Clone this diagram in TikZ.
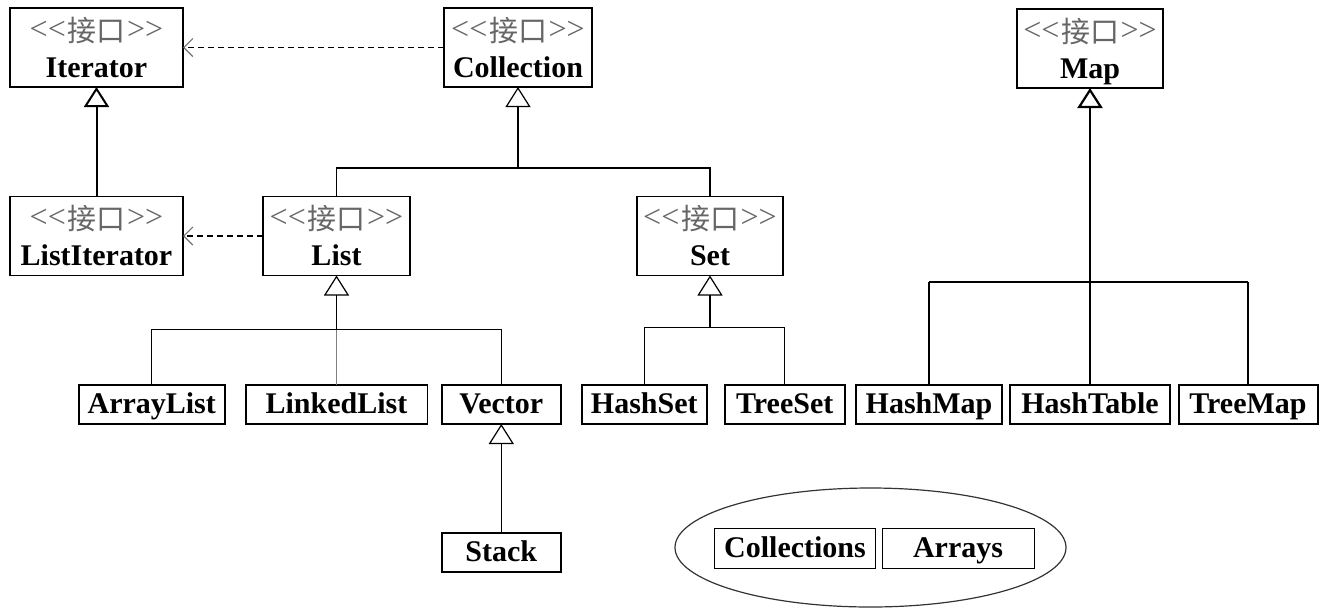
\documentclass[tikz,border=0pt]{standalone}
\usepackage{fontspec}
\setmainfont{Liberation Serif}
\newfontfamily\cjkfont{Noto Sans CJK SC}
\usetikzlibrary{arrows.meta,shapes.geometric,calc}
\newcommand\ltgt[1]{\raisebox{2pt}{\fontsize{32}{32}\selectfont #1}}
\newcommand\stereolabel{\ltgt{<{}<}\,{\cjkfont\fontsize{29}{29}\selectfont 接口}\,\ltgt{>{}>}}
\tikzset{
  every node/.style={inner sep=0pt, outer sep=0pt},
  iface/.style={draw, rectangle, line width=1.5pt, minimum height=79pt},
  cls/.style={draw, rectangle, line width=2pt, minimum height=39pt,
    font=\fontsize{30}{30}\selectfont\bfseries, text height=18pt, text depth=0pt},
  util/.style={cls, line width=1pt, minimum height=40pt},
  nametxt/.style={anchor=base, font=\fontsize{30}{30}\selectfont\bfseries},
  stereotxt/.style={anchor=base, text=black!60},
  inh/.style={-{Triangle[open,length=20pt,width=25pt]}},
  link/.style={line width=1.2pt},
  heavy/.style={line width=2.2pt},
  dep/.style={line width=1.2pt, dash pattern=on 6pt off 4pt,
    -{Straight Barb[length=9pt,width=18pt,color=black!55]}},
}
\newcommand\ifcbox[5]{%
  \node[iface, minimum width=#4pt] (#1) at (#2,#3) {};
  \node[stereotxt] at ($(#1.north)+(0,33)$) {\stereolabel};
  \node[nametxt] at ($(#1.north)+(0,69)$) {#5};
}
\begin{document}
\begin{tikzpicture}[x=1pt,y=-1pt]
\useasboundingbox (0,0) rectangle (1323,614);
% interfaces
\ifcbox{iter}{96.5}{47.5}{173}{Iterator}
\ifcbox{coll}{518}{47.5}{148}{Collection}
\ifcbox{map}{1090}{48.5}{146}{Map}
\ifcbox{listit}{96.5}{236}{173}{ListIterator}
\ifcbox{list}{336.5}{236}{147}{List}
\ifcbox{set}{710}{236}{146}{Set}
% classes
\node[cls, minimum width=146.5pt] (arraylist) at (151.75,404.5) {ArrayList};
\node[cls, line width=1.5pt, minimum width=181.5pt] (linkedlist) at (336.5,404.5) {LinkedList};
\node[cls, minimum width=119.4pt] (vector) at (501.3,404.5) {Vector};
\node[cls, minimum width=119.4pt] (stack) at (501.3,552.5) {Stack};
\node[cls, minimum width=124.5pt] (hashset) at (644.25,404.5) {HashSet};
\node[cls, minimum width=120.5pt] (treeset) at (784.75,404.5) {TreeSet};
\node[cls, minimum width=146pt] (hashmap) at (929,404.5) {HashMap};
\node[cls, minimum width=159.5pt] (hashtable) at (1090,404.5) {HashTable};
\node[cls, minimum width=139pt] (treemap) at (1248,404.5) {TreeMap};
% utilities
\node[draw, ellipse, line width=1.2pt, draw=black!80, minimum width=391pt, minimum height=119pt] (utils) at (870.5,547.5) {};
\node[util, minimum width=161pt] (collections) at (795,548) {Collections};
\node[util, minimum width=152pt] (arrays) at (958,548) {Arrays};
% dependencies
\draw[dep] (coll.west) -- (iter.east);
\draw[dep] (list.west) -- (listit.east);
% Iterator hierarchy
\draw[line width=2pt, inh] (listit.north) -- (iter.south);
% Collection hierarchy
\path (coll.south) ++(0,81) coordinate (cbar);
\draw[link] (list.north) |- (cbar) -| (set.north);
\draw[link, inh] (cbar) -- (coll.south);
% List hierarchy
\path (list.south) ++(0,54) coordinate (lbar);
\draw[link] (arraylist.north) |- (lbar) -| (vector.north);
\draw[link, inh] (lbar) -- (list.south);
\draw[line width=1pt, black!50] (linkedlist.north) -- (lbar);
\draw[link, inh] (stack.north) -- (vector.south);
% Set hierarchy
\path (set.south) ++(0,52) coordinate (sbar);
\draw[link] (hashset.north) |- (sbar) -| (treeset.north);
\draw[link, inh] (sbar) -- (set.south);
% Map hierarchy
\path (map.south) ++(0,194) coordinate (mbar);
\draw[heavy, inh] (mbar) -- (map.south);
\draw[heavy] (hashtable.north) -- (mbar);
\draw[heavy] (hashmap.north |- mbar) -- (treemap.north |- mbar);
\draw[link] (hashmap.north) -- (hashmap.north |- mbar);
\draw[link] (treemap.north) -- (treemap.north |- mbar);
\end{tikzpicture}
\end{document}
